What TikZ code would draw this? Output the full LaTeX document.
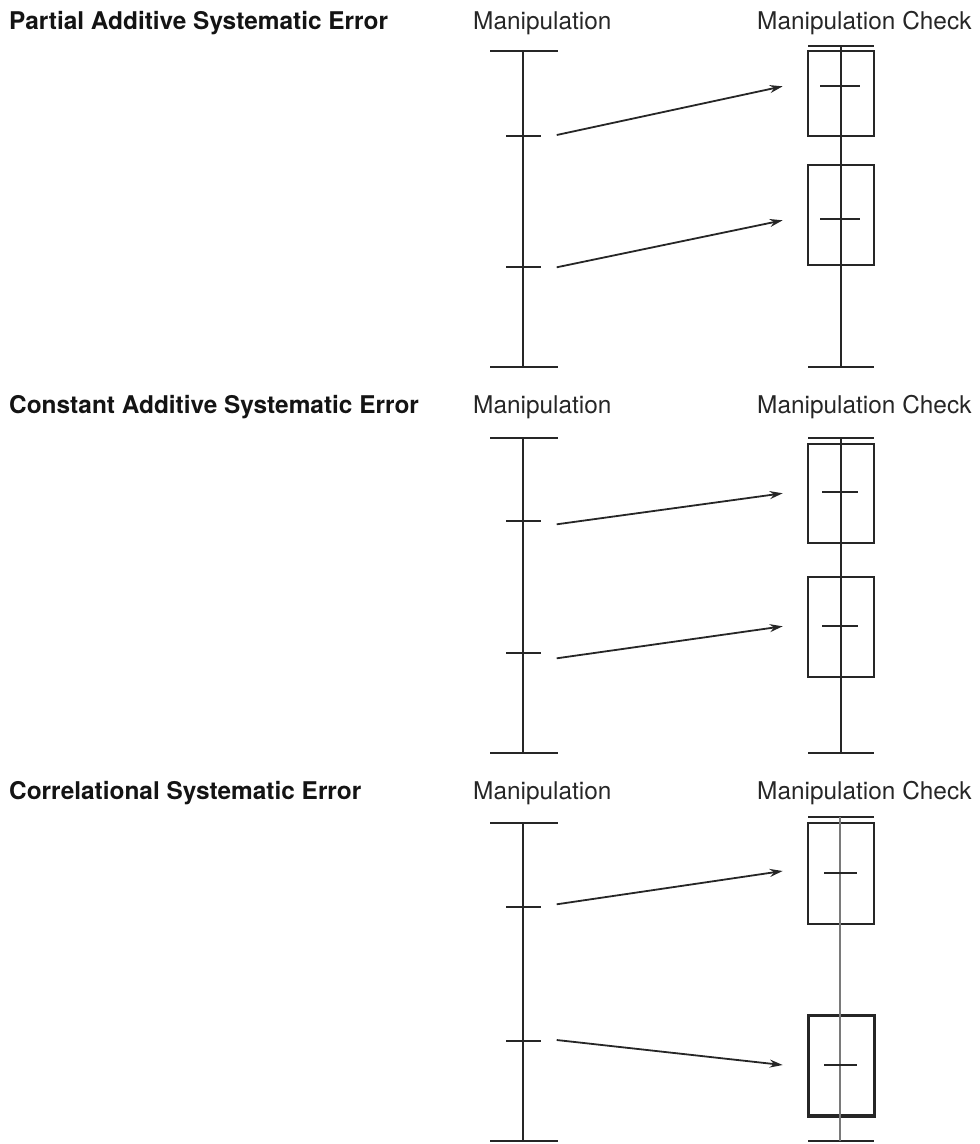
\documentclass[tikz,border=0pt]{standalone}
\usepackage{fontspec}
\setmainfont{TeX Gyre Heros}
\usetikzlibrary{arrows.meta}
\definecolor{ink}{HTML}{262626}
\definecolor{faint}{HTML}{7A7A7A}
\tikzset{
  axis/.style={draw=ink, line width=2.2pt},
  thinaxis/.style={draw=faint, line width=1.8pt},
  cibox/.style={draw=ink, line width=2.2pt},
  heavybox/.style={draw=ink, line width=3.2pt},
  link/.style={draw=ink, line width=1.8pt, -{Stealth[length=13pt,width=8pt]}},
  title/.style={anchor=base west, inner sep=0pt, font=\fontsize{24.4}{28}\selectfont\bfseries, text=black!92},
  colhead/.style={anchor=base west, inner sep=0pt, font=\fontsize{24.4}{28}\selectfont, text=ink},
}
\begin{document}
\begin{tikzpicture}[x=1pt,y=-1pt]
\useasboundingbox (0,0) rectangle (980,1144);

% ---------- Partial additive systematic error ----------
\node[title]   (t1) at (9,29)   {Partial Additive Systematic Error};
\node[colhead] (m1) at (473,29) {Manipulation};
\node[colhead] (c1) at (757,29) {Manipulation Check};
% manipulation scale
\draw[axis] (490,51) -- (557.7,51);
\draw[axis] (490,366.7) -- (557.7,366.7);
\draw[axis] (522.7,51) -- (522.7,366.7);
\draw[axis] (506,135.7) -- (541,135.7);
\draw[axis] (506,266.7) -- (541,266.7);
% manipulation check scale
\draw[axis] (808,45.7) -- (874,45.7);
\draw[axis] (808,366.7) -- (874,366.7);
\draw[axis] (841,45.7) -- (841,366.7);
\draw[cibox] (808,51) rectangle (874,135.7);
\draw[cibox] (808,165) rectangle (874,265.3);
\draw[axis] (820,86.3) -- (860,86.3);
\draw[axis] (820,219) -- (860,219);
% links
\coordinate (a1s) at (556.7,135);   \coordinate (a1e) at (782.7,86.3);
\coordinate (a2s) at (556.7,267.3); \coordinate (a2e) at (782.7,220.3);
\draw[link] (a1s) -- (a1e);
\draw[link] (a2s) -- (a2e);

% ---------- Constant additive systematic error ----------
\node[title]   (t2) at (9,413)   {Constant Additive Systematic Error};
\node[colhead] (m2) at (473,413) {Manipulation};
\node[colhead] (c2) at (757,413) {Manipulation Check};
\draw[axis] (490,437.7) -- (557.7,437.7);
\draw[axis] (490,752.7) -- (557.7,752.7);
\draw[axis] (522.7,437.7) -- (522.7,752.7);
\draw[axis] (506,521) -- (541,521);
\draw[axis] (506,652.7) -- (541,652.7);
\draw[axis] (808,437.7) -- (874,437.7);
\draw[axis] (808,752.7) -- (874,752.7);
\draw[axis] (841,437.7) -- (841,752.7);
\draw[cibox] (808,444) rectangle (874,542.7);
\draw[cibox] (808,576.7) rectangle (874,676.7);
\draw[axis] (822,492) -- (858,492);
\draw[axis] (822,626.3) -- (858,626.3);
\coordinate (b1s) at (556.7,524.3); \coordinate (b1e) at (782.7,493.3);
\coordinate (b2s) at (556.7,658.3); \coordinate (b2e) at (782.7,626.3);
\draw[link] (b1s) -- (b1e);
\draw[link] (b2s) -- (b2e);

% ---------- Correlational systematic error ----------
\node[title]   (t3) at (9,799)   {Correlational Systematic Error};
\node[colhead] (m3) at (473,799) {Manipulation};
\node[colhead] (c3) at (757,799) {Manipulation Check};
\draw[axis] (490,823.3) -- (557.7,823.3);
\draw[axis] (490,1140.7) -- (557.7,1140.7);
\draw[axis] (522.7,823.3) -- (522.7,1140.7);
\draw[axis] (506,906.7) -- (541,906.7);
\draw[axis] (506,1040.7) -- (541,1040.7);
\draw[axis] (808,817.3) -- (874,817.3);
\draw[axis] (808,1140.7) -- (874,1140.7);
\draw[cibox] (808.3,823.3) rectangle (874.3,924);
\draw[heavybox] (808.3,1015.7) rectangle (874.3,1116);
\draw[thinaxis] (840.3,817.3) -- (840.3,1140.7);
\draw[axis] (824,873) -- (857,873);
\draw[axis] (824,1065.3) -- (857,1065.3);
\coordinate (c1s) at (556.7,904.3); \coordinate (c1e) at (782.7,871);
\coordinate (c2s) at (556.7,1040);  \coordinate (c2e) at (782.7,1065);
\draw[link] (c1s) -- (c1e);
\draw[link] (c2s) -- (c2e);
\end{tikzpicture}
\end{document}
